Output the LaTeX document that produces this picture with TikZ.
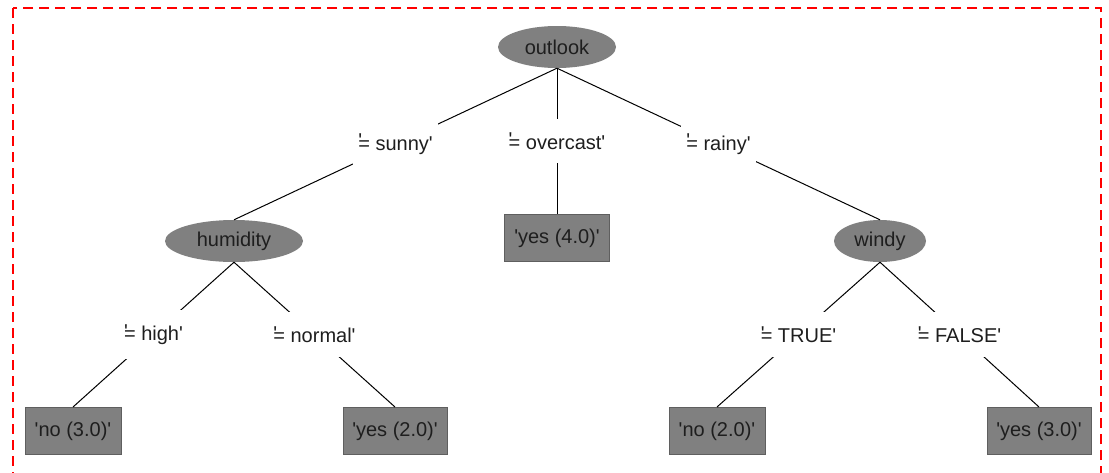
\documentclass[tikz,border=0pt]{standalone}
\usepackage{fontspec}
\setmainfont{Liberation Sans}[Ligatures=TeXOff]
\usetikzlibrary{shapes.geometric}
\definecolor{wgray}{RGB}{128,128,128}
\definecolor{wtext}{RGB}{30,30,30}
\definecolor{wedge}{RGB}{95,95,95}
\newcommand{\eqq}{{\rlap{\raisebox{0.12em}{'}}=}\ }
\tikzset{
  inner/.style={ellipse, fill=wgray, inner sep=0pt, minimum height=42pt, text=wtext, font=\fontsize{20}{22}\selectfont},
  leafbox/.style={rectangle, fill=wgray, draw=wedge, line width=1pt, inner sep=0pt, minimum height=47pt, text=wtext, font=\fontsize{20}{22}\selectfont},
  lab/.style={rectangle, fill=white, inner xsep=5pt, inner ysep=14pt, text=wtext, font=\fontsize{20}{22}\selectfont},
  conn/.style={black, line width=1pt},
}
\begin{document}
\begin{tikzpicture}[x=1pt,y=-1pt]
\useasboundingbox (0,0) rectangle (1109,472);
\fill[white] (0,0) rectangle (1109,472);
\begin{scope}
\clip (0,0) rectangle (1109,472);
\draw[red, line width=2pt, dash pattern=on 10pt off 6pt] (13,8) rectangle (1101,490);
\end{scope}
% inner nodes
\node[inner, minimum width=118pt] (outlook) at (557,47) {outlook};
\node[inner, minimum width=138pt] (humidity) at (234,241) {humidity};
\node[inner, minimum width=92pt] (windy) at (880,241) {windy};
% leaves
\node[leafbox, minimum width=105pt] (yes4) at (557,238) {'yes (4.0)'};
\node[leafbox, minimum width=96pt] (no3) at (73,431) {'no (3.0)'};
\node[leafbox, minimum width=104pt] (yes2) at (395,431) {'yes (2.0)'};
\node[leafbox, minimum width=96pt] (no2) at (717,431) {'no (2.0)'};
\node[leafbox, minimum width=104pt] (yes3) at (1039,431) {'yes (3.0)'};
% connectors
\draw[conn] (outlook.south) -- node[lab] (lsunny) {\eqq sunny'} (humidity.north);
\draw[conn] (outlook.south) -- node[lab] (lover) {\eqq overcast'} (yes4.north);
\draw[conn] (outlook.south) -- node[lab] (lrainy) {\eqq rainy'} (windy.north);
\draw[conn] (humidity.south) -- node[lab] (lhigh) {\eqq high'} (no3.north);
\draw[conn] (humidity.south) -- node[lab] (lnormal) {\eqq normal'} (yes2.north);
\draw[conn] (windy.south) -- node[lab] (ltrue) {\eqq TRUE'} (no2.north);
\draw[conn] (windy.south) -- node[lab] (lfalse) {\eqq FALSE'} (yes3.north);
\end{tikzpicture}
\end{document}
